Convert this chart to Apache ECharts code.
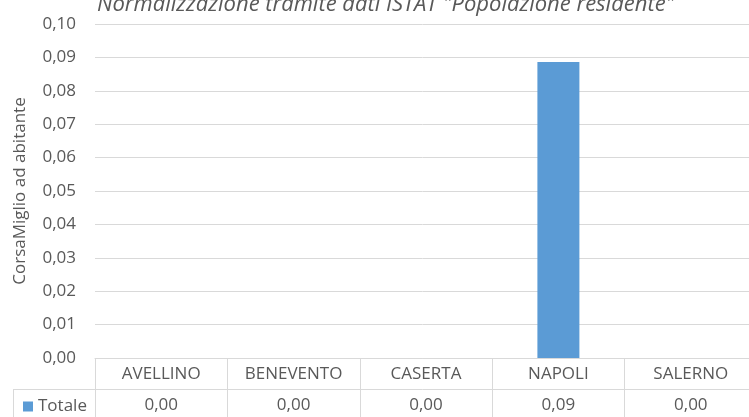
<!DOCTYPE html>
<html>
<head>
<meta charset="utf-8">
<script src="https://cdn.jsdelivr.net/npm/echarts@6/dist/echarts.min.js"></script>
<style>
html,body{margin:0;padding:0;background:#fff;}
#chart{width:749px;height:417px;}
</style>
</head>
<body>
<div id="chart"></div>
<script>
const titleText = 'Normalizzazione tramite dati ISTAT "Popolazione residente"';
const yAxisName = 'CorsaMiglio ad abitante';
const seriesName = 'Totale';
const categories = ['AVELLINO', 'BENEVENTO', 'CASERTA', 'NAPOLI', 'SALERNO'];
const totale = [0.0, 0.0, 0.0, 0.0886, 0.0];
const yMin = 0, yMax = 0.10, yStep = 0.01;

const fmt = v => v.toFixed(2).replace('.', ',');
const FONT = 'Open Sans';
const TXT = '#595959';
const LINE = '#d9d9d9';

const chart = echarts.init(document.getElementById('chart'));
chart.setOption({
  animation: false,
  textStyle: { fontFamily: FONT, color: TXT },
  title: {
    text: titleText,
    left: 92, top: -11,
    textStyle: { fontFamily: FONT, fontSize: 22, fontStyle: 'italic', fontWeight: 'normal', color: TXT }
  },
  legend: {
    data: [seriesName],
    left: 18, top: 393,
    itemWidth: 10, itemHeight: 10, itemGap: 5,
    icon: 'rect',
    textStyle: { fontFamily: FONT, fontSize: 17, color: TXT, padding: [0, 0, 0, 0] }
  },
  grid: { left: 95, top: 24, width: 662, height: 334, outerBoundsMode: 'none', containLabel: false },
  xAxis: [
    {
      type: 'category', data: categories, position: 'bottom',
      axisLine: { show: true, lineStyle: { color: LINE } },
      axisTick: { show: true, length: 64, lineStyle: { color: LINE } },
      axisLabel: { fontFamily: FONT, fontSize: 17, color: TXT, margin: 8 }
    },
    {
      type: 'category', data: categories, position: 'bottom', offset: 31,
      axisLine: { show: true, lineStyle: { color: LINE } },
      axisTick: { show: false },
      axisLabel: { fontFamily: FONT, fontSize: 17, color: TXT, margin: 8,
        formatter: (v, i) => fmt(totale[i]) }
    }
  ],
  yAxis: {
    type: 'value', min: yMin, max: yMax, interval: yStep,
    name: yAxisName, nameLocation: 'middle', nameGap: 66, nameRotate: 90,
    nameTextStyle: { fontFamily: FONT, fontSize: 17, color: TXT },
    axisLine: { show: false }, axisTick: { show: false },
    axisLabel: { fontFamily: FONT, fontSize: 17, color: TXT, margin: 19, formatter: v => fmt(v) },
    splitLine: { lineStyle: { color: LINE } }
  },
  series: [{
    name: seriesName, type: 'bar', data: totale, xAxisIndex: 0,
    barWidth: 42,
    itemStyle: { color: '#5b9bd5' }
  }],
  graphic: [
    { type: 'line', shape: { x1: 13, y1: 389.5, x2: 95, y2: 389.5 }, style: { stroke: LINE, lineWidth: 1 } },
    { type: 'line', shape: { x1: 13.5, y1: 389, x2: 13.5, y2: 425 }, style: { stroke: LINE, lineWidth: 1 } }
  ]
});
</script>
</body>
</html>
